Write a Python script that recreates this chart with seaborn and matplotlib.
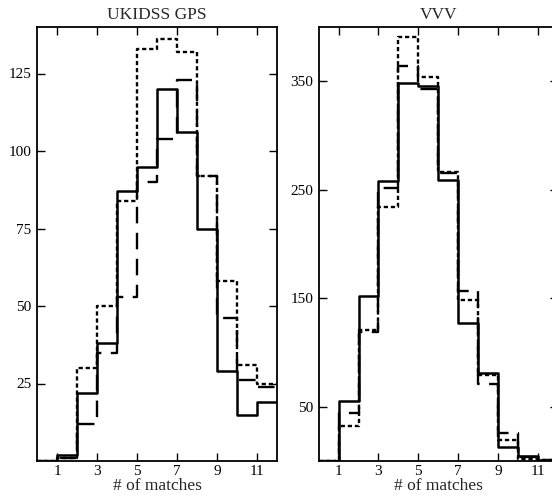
import numpy as np
import pandas as pd
import seaborn as sns
import matplotlib
matplotlib.use("Agg")
import matplotlib.pyplot as plt

sns.set_theme(style="ticks")
plt.rcParams["font.family"] = ["Liberation Serif", "DejaVu Serif"]
plt.rcParams["mathtext.fontset"] = "stix"

centers = [0.5, 1.5, 2.5, 3.5, 4.5, 5.5, 6.5, 7.5, 8.5, 9.5, 10.5, 11.5]

# UKIDSS GPS
gps_solid = [0, 2, 22, 38, 87, 95, 120, 106, 75, 29, 15, 19]
gps_dashed = [0, 1, 12, 35, 53, 90, 104, 123, 92, 46, 26, 24]
gps_dotted = [0, 1, 30, 50, 84, 133, 136, 132, 92, 58, 31, 25]

# VVV
vvv_solid = [0, 55, 152, 258, 348, 346, 259, 127, 81, 13, 5, 1]
vvv_dashed = [0, 44, 119, 252, 364, 343, 265, 157, 71, 26, 4, 1]
vvv_dotted = [0, 32, 121, 234, 391, 354, 266, 148, 79, 19, 2, 1]

xticks = [1, 3, 5, 7, 9, 11]
gps_yticks = [25, 50, 75, 100, 125]
vvv_yticks = [50, 150, 250, 350]

fig = plt.figure(figsize=(5.52, 5.03), dpi=100)
ax1 = fig.add_axes([37 / 552, 1 - 461 / 503, 240 / 552, 434 / 503])
ax2 = fig.add_axes([318.7 / 552, 1 - 461 / 503, 239 / 552, 434 / 503])

styles = [
    dict(linestyle="-", lw=1.8),
    dict(linestyle=(0, (7, 4)), lw=1.7),
    dict(linestyle=(0, (1.8, 1.2)), lw=1.7),
]

def draw(ax, series, title, ylim, yticks):
    for vals, st in zip(series, styles):
        df = pd.DataFrame({"x": centers, "w": vals})
        sns.histplot(data=df, x="x", weights="w", binwidth=1, binrange=(0, 12),
                     element="step", fill=False, color="black", ax=ax, **st)
    ax.set_xlim(0, 12)
    ax.set_ylim(0, ylim)
    ax.set_xticks(xticks)
    ax.set_yticks(yticks)
    ax.set_xticklabels([str(t) for t in xticks])
    ax.set_yticklabels([str(t) for t in yticks])
    ax.tick_params(direction="in", top=True, right=True, length=5.5, width=1,
                   labelsize=11, colors="black")
    ax.tick_params(axis="x", pad=3)
    ax.tick_params(axis="y", pad=4)
    for s in ax.spines.values():
        s.set_linewidth(1.3)
        s.set_color("black")
    ax.set_xlabel("# of matches", fontsize=12.5, labelpad=0)
    ax.set_ylabel("")
    ax.set_title(title, fontsize=12.5, pad=6)

draw(ax1, [gps_solid, gps_dashed, gps_dotted], "UKIDSS GPS", 140, gps_yticks)
draw(ax2, [vvv_solid, vvv_dashed, vvv_dotted], "VVV", 400, vvv_yticks)

fig.savefig("out.png", dpi=100)
